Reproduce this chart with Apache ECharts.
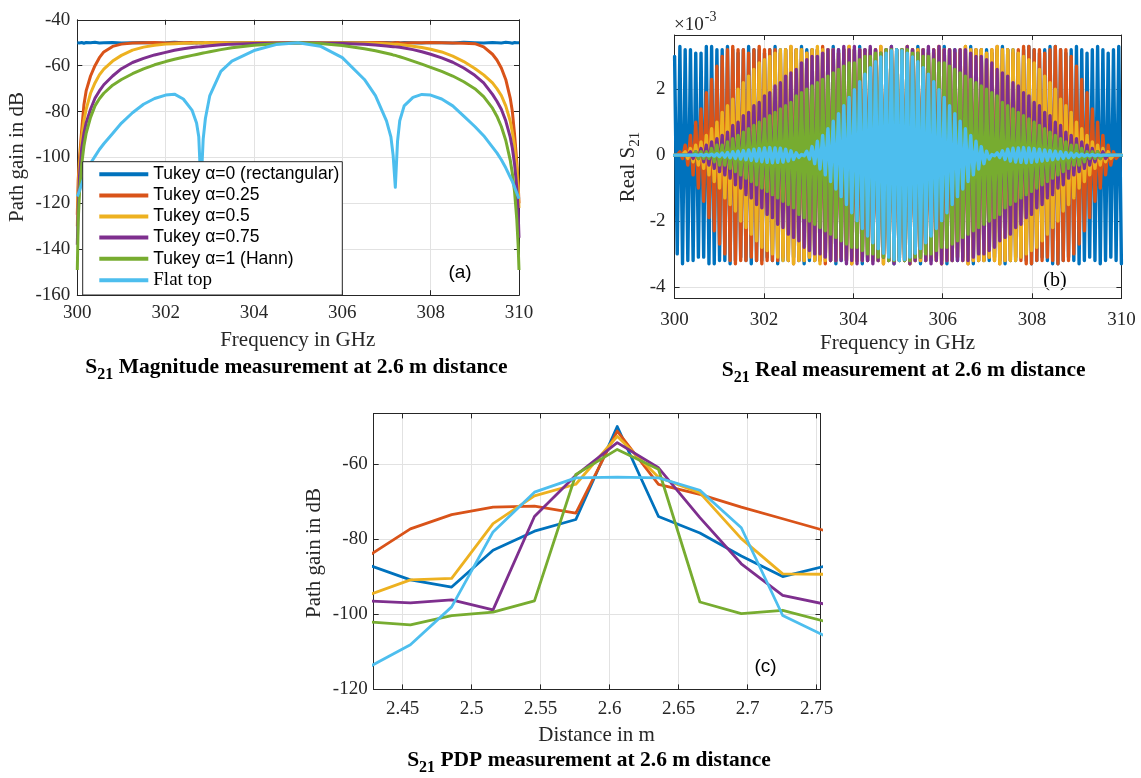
<!DOCTYPE html>
<html><head><meta charset="utf-8">
<script src="https://cdn.jsdelivr.net/npm/echarts@6/dist/echarts.min.js"></script>
<style>html,body{margin:0;padding:0;background:#fff}#c{width:1141px;height:778px}</style>
</head><body><div id="c"></div>
<script>
// ---------- names & colours ----------
const seriesNames = ['Tukey α=0 (rectangular)', 'Tukey α=0.25', 'Tukey α=0.5', 'Tukey α=0.75', 'Tukey α=1 (Hann)', 'Flat top'];
const colors = ['#0072BD', '#D95319', '#EDB120', '#7E2F8E', '#77AC30', '#4DBEEE'];

// ---------- panel (a): magnitude in dB ----------
const freqA = [300, 300.02, 300.05, 300.1, 300.15, 300.2, 300.3, 300.4, 300.5, 300.6,
  300.8, 301, 301.25, 301.5, 301.75, 302, 302.2, 302.4, 302.6, 302.7,
  302.75, 302.8, 302.85, 302.9, 303, 303.25, 303.5, 304, 304.5, 305,
  305.5, 306, 306.5, 306.75, 307, 307.1, 307.15, 307.2, 307.25, 307.3,
  307.4, 307.6, 307.8, 308, 308.25, 308.5, 308.75, 309, 309.2, 309.4,
  309.5, 309.6, 309.7, 309.8, 309.85, 309.9, 309.95, 309.98, 310];
const magRect = [-50.0, -49.8, -50.1, -49.9, -50.2, -49.9, -50.0, -49.8, -50.1, -50.0,
  -49.9, -50.1, -50.0, -49.9, -50.1, -50.0, -49.8, -50.0, -50.1, -49.9,
  -50.0, -50.1, -49.9, -50.0, -49.9, -50.1, -50.0, -49.9, -50.0, -50.0,
  -50.1, -49.9, -50.0, -50.1, -49.9, -50.0, -50.1, -49.9, -50.0, -50.1,
  -49.9, -50.0, -50.1, -49.9, -50.0, -50.1, -49.8, -50.0, -50.1, -49.9,
  -50.0, -50.1, -49.8, -50.0, -50.2, -49.9, -50.0, -49.8, -50.0];
const magT25 = [-125, -110, -100, -88, -77, -71, -64.5, -60, -56.5, -54,
  -51.6, -50.6, -50.1, -50.0, -49.9, -50.1, -50.0, -50.0, -49.9, -50.1,
  -50.0, -50.0, -50.1, -49.9, -50.0, -50.0, -50.1, -50.0, -49.9, -50.0,
  -50.0, -50.1, -50.0, -49.9, -50.0, -50.1, -50.0, -50.0, -49.9, -50.0,
  -50.1, -50.0, -50.0, -49.9, -50.0, -50.1, -50.2, -50.4, -51.8, -55,
  -57.5, -61, -66, -74, -80, -90, -102, -111, -120];
const magT50 = [-130, -115, -103, -91, -84, -79, -72, -67.5, -64, -61.5,
  -58, -55.5, -53.2, -51.9, -51.1, -50.6, -50.4, -50.2, -50.1, -50.0,
  -50.0, -50.1, -50.0, -49.9, -50.0, -50.0, -50.1, -50.0, -49.9, -50.0,
  -50.0, -50.1, -50.1, -50.2, -50.4, -50.5, -50.6, -50.6, -50.7, -50.8,
  -51.0, -51.5, -52.1, -52.8, -54.0, -55.8, -58.2, -61.2, -64, -67.5,
  -70, -73, -77.5, -84, -89, -95, -105, -113, -122];
const magT75 = [-138, -122, -108, -96, -89.5, -85, -79, -74.2, -71, -68.3,
  -64.5, -61.3, -58.6, -56.8, -55.3, -54.2, -53.3, -52.6, -52.1, -51.9,
  -51.8, -51.7, -51.6, -51.5, -51.3, -50.9, -50.6, -50.3, -50.1, -50.0,
  -50.1, -50.3, -50.7, -51.0, -51.4, -51.6, -51.7, -51.8, -51.9, -52.0,
  -52.3, -53.0, -53.9, -55.0, -56.6, -58.5, -61, -64.2, -67.5, -72.5,
  -75.5, -79, -84, -91, -96, -103, -113, -123, -135];
const magHann = [-149, -128, -115, -103, -95, -89.5, -82.5, -77.5, -74.4, -72,
  -68.5, -66, -63.5, -61.4, -59.6, -58.2, -57.2, -56.3, -55.5, -55.1,
  -54.9, -54.7, -54.5, -54.3, -53.9, -53.0, -52.2, -51.1, -50.4, -50.0,
  -50.3, -51.2, -52.6, -53.5, -54.6, -55.0, -55.3, -55.5, -55.8, -56.1,
  -56.7, -58.0, -59.3, -60.7, -62.5, -64.5, -67, -70, -73.5, -78.5,
  -82, -86.5, -92.5, -101, -107, -115, -127, -138, -149];
const magFlat = [-117, -116, -114.5, -111.5, -109, -106.5, -102.5, -99.5, -96.5, -94,
  -89.5, -85, -80.5, -76.8, -74.3, -72.8, -72.4, -74.5, -79.5, -85,
  -91, -113, -92, -83, -73, -62.5, -58, -53.4, -50.8, -50,
  -51.5, -56.5, -66, -73, -84, -91, -99, -113, -93, -84,
  -77.5, -73.8, -72.5, -72.8, -74.5, -77.5, -82, -86.5, -90.5, -95.5,
  -98, -101, -104.5, -108.5, -110.5, -113, -115.5, -117, -118];
const yTicksA = [-160, -140, -120, -100, -80, -60, -40];
const xTicksA = [300, 302, 304, 306, 308, 310];

// ---------- panel (b): real part, peak amplitude per ripple cycle (x1e-3) ----------
const bStartGHz = 300, bStopGHz = 310, bCycles = 84.5;
const ampRect = [3.0, 3.3, 3.2, 3.2, 3.1, 3.1, 3.3, 3.3, 3.2, 3.2,
  3.3, 3.2, 3.1, 3.2, 3.3, 3.2, 3.2, 3.1, 3.2, 3.3,
  3.2, 3.2, 3.1, 3.2, 3.3, 3.2, 3.2, 3.2, 3.1, 3.2,
  3.3, 3.2, 3.2, 3.1, 3.2, 3.3, 3.2, 3.2, 3.2, 3.1,
  3.2, 3.3, 3.2, 3.2, 3.1, 3.2, 3.3, 3.2, 3.2, 3.1,
  3.2, 3.3, 3.2, 3.2, 3.1, 3.2, 3.3, 3.2, 3.2, 3.2,
  3.1, 3.2, 3.3, 3.2, 3.2, 3.1, 3.2, 3.3, 3.2, 3.1,
  3.2, 3.3, 3.3, 3.2, 3.1, 3.2, 3.3, 3.2, 3.1, 3.2,
  3.3, 3.2, 3.1, 3.2, 3.3];
const ampT25 = [0, 0.1, 0.3, 0.6, 1.0, 1.4, 1.9, 2.3, 2.7, 3.0, 3.2,
  3.3, 3.2, 3.2, 3.1, 3.2, 3.3, 3.2, 3.2, 3.2, 3.1,
  3.2, 3.3, 3.2, 3.2, 3.1, 3.2, 3.2, 3.3, 3.2, 3.2,
  3.1, 3.2, 3.3, 3.2, 3.2, 3.2, 3.1, 3.2, 3.3, 3.2,
  3.2, 3.1, 3.2, 3.3, 3.2, 3.2, 3.2, 3.1, 3.2, 3.3,
  3.2, 3.2, 3.1, 3.2, 3.3, 3.2, 3.2, 3.2, 3.1, 3.2,
  3.3, 3.2, 3.2, 3.1, 3.2, 3.3, 3.3, 3.2, 3.2, 3.1,
  3.2, 3.3, 3.2,
  3.2, 3.0, 2.7, 2.3, 1.9, 1.4, 1.0, 0.6, 0.3, 0.1, 0];
const ampT50 = [0, 0, 0.1, 0.2, 0.3, 0.4, 0.6, 0.8, 1.0, 1.3, 1.5, 1.7, 2.0, 2.2, 2.4, 2.6, 2.8, 2.9, 3.0, 3.1, 3.2, 3.2,
  3.3, 3.2, 3.2, 3.1, 3.2, 3.3, 3.2, 3.2, 3.2, 3.1,
  3.2, 3.3, 3.2, 3.2, 3.1, 3.2, 3.2, 3.3, 3.2, 3.2,
  3.1, 3.2, 3.3, 3.2, 3.2, 3.2, 3.1, 3.2, 3.3, 3.2,
  3.2, 3.1, 3.2, 3.3, 3.2, 3.2, 3.2, 3.1, 3.2, 3.3,
  3.2,
  3.2, 3.2, 3.1, 3.0, 2.9, 2.8, 2.6, 2.4, 2.2, 2.0, 1.7, 1.5, 1.3, 1.0, 0.8, 0.6, 0.4, 0.3, 0.2, 0.1, 0, 0];
const ampT75 = [0, 0, 0, 0.1, 0.1, 0.2, 0.3, 0.4, 0.5, 0.6, 0.7, 0.9, 1.0, 1.2, 1.3, 1.5,
  1.6, 1.8, 1.9, 2.1, 2.2, 2.4, 2.5, 2.6, 2.8, 2.9, 3.0, 3.0, 3.1, 3.2, 3.2, 3.2,
  3.3, 3.2, 3.3, 3.2, 3.2, 3.3, 3.2, 3.1, 3.2, 3.3, 3.2, 3.2, 3.3, 3.2, 3.1, 3.2, 3.3, 3.2, 3.3, 3.2, 3.2,
  3.2, 3.2, 3.2, 3.1, 3.0, 3.0, 2.9, 2.8, 2.6, 2.5, 2.4, 2.2, 2.1, 1.9, 1.8, 1.6,
  1.5, 1.3, 1.2, 1.0, 0.9, 0.7, 0.6, 0.5, 0.4, 0.3, 0.2, 0.1, 0.1, 0, 0, 0];
const ampHann = [0, 0, 0, 0, 0.1, 0.1, 0.1, 0.2, 0.3, 0.3, 0.4, 0.5, 0.6, 0.7, 0.8, 0.9,
  1.0, 1.1, 1.2, 1.3, 1.4, 1.5, 1.6, 1.8, 1.9, 2.0, 2.1, 2.2, 2.3, 2.4, 2.5, 2.6,
  2.7, 2.8, 2.8, 2.9, 3.0, 3.0, 3.1, 3.1, 3.2, 3.2, 3.2,
  3.2, 3.2, 3.1, 3.1, 3.0, 3.0, 2.9, 2.8, 2.8, 2.7, 2.6, 2.5, 2.4, 2.3, 2.2, 2.1,
  2.0, 1.9, 1.8, 1.6, 1.5, 1.4, 1.3, 1.2, 1.1, 1.0, 0.9, 0.8, 0.7, 0.6, 0.5, 0.4,
  0.3, 0.3, 0.2, 0.1, 0.1, 0.1, 0, 0, 0, 0];
const ampFlat = [0, 0, 0, 0, 0.01, 0.02, 0.02, 0.03, 0.04, 0.06, 0.08, 0.1, 0.12, 0.14, 0.16, 0.18,
  0.2, 0.22, 0.23, 0.22, 0.21, 0.18, 0.13, 0.07, 0.02, 0.12, 0.26, 0.42, 0.6, 0.8, 1.03, 1.26,
  1.5, 1.75, 1.99, 2.23, 2.46, 2.66, 2.84, 2.98, 3.1, 3.17, 3.2,
  3.17, 3.1, 2.98, 2.84, 2.66, 2.46, 2.23, 1.99, 1.75, 1.5, 1.26, 1.03, 0.8, 0.6, 0.42, 0.26,
  0.12, 0.02, 0.07, 0.13, 0.18, 0.21, 0.22, 0.23, 0.22, 0.2, 0.18, 0.16, 0.14, 0.12, 0.1, 0.08,
  0.06, 0.04, 0.03, 0.02, 0.02, 0.01, 0, 0, 0, 0];

// ---------- panel (c): PDP ----------
const distC = [2.4256, 2.4556, 2.4855, 2.5155, 2.5455, 2.5755, 2.6055, 2.6354, 2.6654, 2.6954, 2.7254, 2.7553];
const pdpRect = [-86.9, -90.8, -92.7, -82.9, -77.8, -74.7, -49.9, -73.9, -78.3, -84.4, -89.9, -87.2];
const pdpT25 = [-84.3, -77.2, -73.4, -71.4, -71.1, -73.0, -51.1, -65.3, -68.0, -71.4, -74.5, -77.6];
const pdpT50 = [-94.8, -90.8, -90.4, -75.8, -68.4, -65.3, -52.5, -63.4, -67.6, -79.8, -89.2, -89.3];
const pdpT75 = [-96.4, -96.9, -96.1, -98.8, -73.9, -62.9, -54.2, -60.9, -74.2, -86.5, -94.9, -97.2];
const pdpHann = [-102.0, -102.8, -100.3, -99.4, -96.4, -62.7, -56.0, -61.3, -96.7, -99.8, -98.9, -101.8];
const pdpFlat = [-114.0, -108.1, -98.0, -78.0, -67.4, -63.6, -63.4, -63.6, -66.9, -76.9, -100.3, -105.6];

// ---------- build ----------
const AX = '#262626', GRIDC = '#e2e2e2';
const SERIF = 'Liberation Serif', SANS = 'Liberation Sans';

function xAxes(gi, o) {
  const base = {type: 'value', gridIndex: gi, min: o.min, max: o.max, splitNumber: o.split,
    axisLine: {show: true, onZero: false, lineStyle: {color: AX, width: 1}},
    axisTick: {show: true, inside: true, length: 5, lineStyle: {color: AX, width: 1}}};
  if (o.interval != null) base.interval = o.interval;
  return [
    Object.assign({}, base, {position: 'bottom',
      axisLabel: {show: true, margin: o.margin, fontFamily: SERIF, fontSize: 19, color: AX,
        showMinLabel: o.showMin, showMaxLabel: o.showMax},
      splitLine: {show: true, lineStyle: {color: GRIDC, width: 1}}}),
    Object.assign({}, base, {position: 'top', axisLabel: {show: false}, splitLine: {show: false}})
  ];
}
function yAxes(gi, o) {
  const base = {type: 'value', gridIndex: gi, min: o.min, max: o.max, splitNumber: o.split,
    axisLine: {show: true, onZero: false, lineStyle: {color: AX, width: 1}},
    axisTick: {show: true, inside: true, length: 5, lineStyle: {color: AX, width: 1}}};
  if (o.interval != null) base.interval = o.interval;
  return [
    Object.assign({}, base, {position: 'left',
      axisLabel: {show: true, margin: o.margin, fontFamily: SERIF, fontSize: 19, color: AX,
        showMinLabel: o.showMin, showMaxLabel: o.showMax},
      splitLine: {show: true, lineStyle: {color: GRIDC, width: 1}}}),
    Object.assign({}, base, {position: 'right', axisLabel: {show: false}, splitLine: {show: false}})
  ];
}

const xAxis = [].concat(
  xAxes(0, {min: xTicksA[0], max: xTicksA[xTicksA.length - 1], interval: 2, margin: 8, showMin: true, showMax: true}),
  xAxes(1, {min: 300, max: 310, interval: 2, margin: 12, showMin: true, showMax: true}),
  xAxes(2, {min: 2.429, max: 2.7528, split: 6, margin: 10, showMin: false, showMax: false})
);
const yAxis = [].concat(
  yAxes(0, {min: yTicksA[0], max: yTicksA[yTicksA.length - 1], interval: 20, margin: 7, showMin: true, showMax: true}),
  yAxes(1, {min: -4.35, max: 3.65, split: 4, margin: 9, showMin: false, showMax: false}),
  yAxes(2, {min: -120, max: -46.4, interval: 20, margin: 6, showMin: true, showMax: false})
);

const magSets = [magRect, magT25, magT50, magT75, magHann, magFlat];
const ampSets = [ampRect, ampT25, ampT50, ampT75, ampHann, ampFlat];
const pdpSets = [pdpRect, pdpT25, pdpT50, pdpT75, pdpHann, pdpFlat];

const series = [];
magSets.forEach((arr, i) => {
  series.push({type: 'line', name: seriesNames[i], xAxisIndex: 0, yAxisIndex: 0,
    data: arr.map((v, j) => [freqA[j], v]), symbol: 'none', silent: true,
    lineStyle: {color: colors[i], width: 3, join: 'round'}, itemStyle: {color: colors[i]}});
});
const period = (bStopGHz - bStartGHz) / bCycles;
ampSets.forEach((arr, i) => {
  const d = [];
  arr.forEach((a, k) => {
    d.push([bStartGHz + k * period, a]);
    d.push([bStartGHz + (k + 0.5) * period, -a]);
  });
  series.push({type: 'line', name: seriesNames[i], xAxisIndex: 2, yAxisIndex: 2,
    data: d, symbol: 'none', silent: true,
    lineStyle: {color: colors[i], width: 3.4, join: 'round', cap: 'round'}, itemStyle: {color: colors[i]}});
});
pdpSets.forEach((arr, i) => {
  series.push({type: 'line', name: seriesNames[i], xAxisIndex: 4, yAxisIndex: 4,
    data: arr.map((v, j) => [distC[j], v]), symbol: 'none', silent: true,
    lineStyle: {color: colors[i], width: 2.8, join: 'round'}, itemStyle: {color: colors[i]}});
});

function txt(x, y, text, size, extra) {
  return Object.assign({type: 'text', x: x, y: y, silent: true,
    style: Object.assign({text: text, fontSize: size, fontFamily: SERIF, fill: AX, align: 'center', verticalAlign: 'middle'}, extra && extra.style || {})},
    extra && extra.el || {});
}
function caption(x, y, rest) {
  return {type: 'text', x: x, y: y, silent: true, style: {
    text: '{b|S}{s|21}{b|' + rest + '}', align: 'center', verticalAlign: 'middle',
    rich: {
      b: {fontSize: 21.5, fontWeight: 'bold', fontFamily: SERIF, fill: '#000', lineHeight: 30},
      s: {fontSize: 16, fontWeight: 'bold', fontFamily: SERIF, fill: '#000', lineHeight: 15, padding: [15, 0, 0, 0]}
    }}};
}

const graphic = [
  txt(17.5, 157, 'Path gain in dB', 21, {el: {rotation: Math.PI / 2}}),
  txt(297.7, 340, 'Frequency in GHz', 21),
  caption(296.5, 367.5, ' Magnitude measurement at 2.6 m distance'),
  txt(460, 273, '(a)', 19, {style: {fontFamily: SANS, fill: '#000'}}),

  {type: 'text', x: 628, y: 167, rotation: Math.PI / 2, silent: true, style: {
    text: '{n|Real S}{s|21}', align: 'center', verticalAlign: 'middle',
    rich: {n: {fontSize: 21, fontFamily: SERIF, fill: AX, lineHeight: 28},
      s: {fontSize: 15, fontFamily: SERIF, fill: AX, lineHeight: 14, padding: [14, 0, 0, 0]}}}},
  {type: 'text', x: 674, y: 25, silent: true, style: {
    text: '{n|×10}{p|-3}', align: 'left', verticalAlign: 'middle',
    rich: {n: {fontSize: 19, fontFamily: SERIF, fill: AX, lineHeight: 30},
      p: {fontSize: 14, fontFamily: SERIF, fill: AX, lineHeight: 14, padding: [0, 0, 16, 1]}}}},
  txt(897.6, 343, 'Frequency in GHz', 21),
  caption(903.6, 370, ' Real measurement at 2.6 m distance'),
  txt(1055, 281, '(b)', 20, {style: {fill: '#000'}}),

  txt(314.4, 553, 'Path gain in dB', 21, {el: {rotation: Math.PI / 2}}),
  txt(596.6, 735, 'Distance in m', 21),
  caption(589, 760, ' PDP measurement at 2.6 m distance'),
  txt(765.6, 667, '(c)', 19, {style: {fontFamily: SANS, fill: '#000'}})
];

const legendData = seriesNames.map((n, i) => i === 5
  ? {name: n, textStyle: {fontFamily: SERIF, fontSize: 19, lineHeight: 18}}
  : {name: n});

const option = {
  animation: false,
  backgroundColor: '#fff',
  grid: [
    {left: 77.3, top: 19.8, width: 441.7, height: 275.4, containLabel: false, outerBoundsMode: 'none'},
    {left: 674.6, top: 35, width: 446.8, height: 263.3, containLabel: false, outerBoundsMode: 'none'},
    {left: 373.7, top: 413.4, width: 446.8, height: 276, containLabel: false, outerBoundsMode: 'none'}
  ],
  xAxis: xAxis,
  yAxis: yAxis,
  legend: {
    show: true, orient: 'vertical', left: 82.7, top: 161.7,
    padding: [3.6, 3, 5.2, 16.6], itemGap: 3.1, itemWidth: 49, itemHeight: 4, icon: 'rect',
    backgroundColor: '#fff', borderColor: '#262626', borderWidth: 1, borderRadius: 0,
    selectedMode: false,
    textStyle: {fontFamily: SANS, fontSize: 17.5, lineHeight: 18, color: '#000'},
    data: legendData
  },
  series: series,
  graphic: graphic
};

const chart = echarts.init(document.getElementById('c'), null, {renderer: 'canvas'});
chart.setOption(option);
</script>
</body></html>
